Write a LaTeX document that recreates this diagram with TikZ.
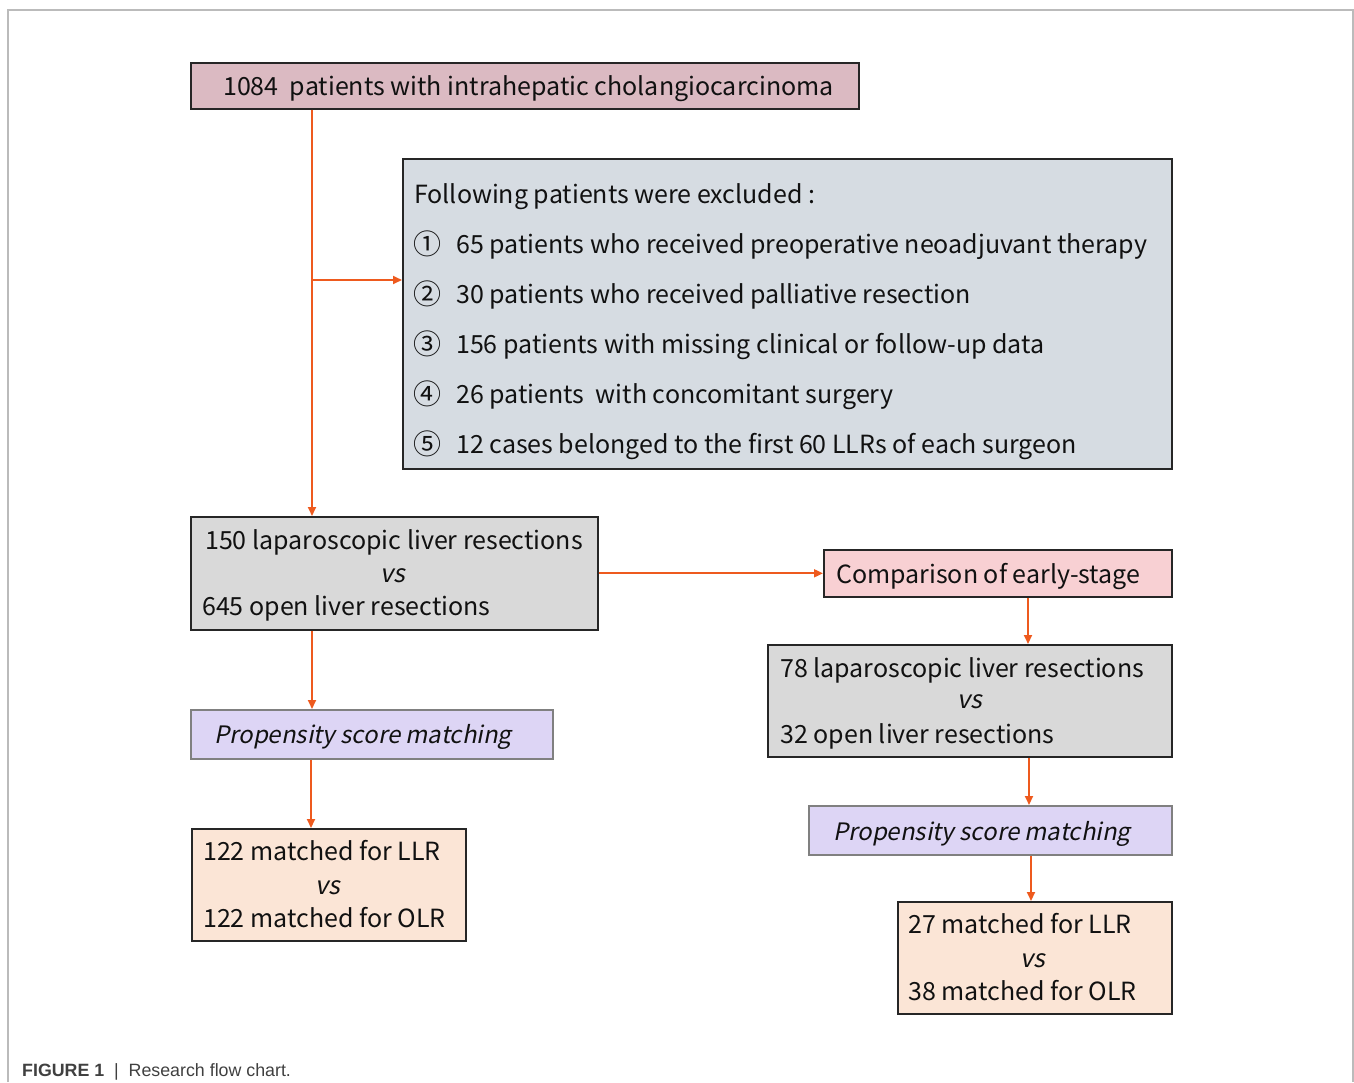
\documentclass[tikz,border=0pt]{standalone}
\usepackage{fontspec}
\setmainfont{Noto Sans CJK SC}[ItalicFont=Noto Sans CJK SC, ItalicFeatures={FakeSlant=0.2}]
\newfontfamily\capfont{Liberation Sans}
\usetikzlibrary{arrows.meta}
\definecolor{arrowc}{HTML}{EE5A1E}
\definecolor{topfill}{HTML}{DBBAC2}
\definecolor{exfill}{HTML}{D6DCE2}
\definecolor{grayfill}{HTML}{D9D9D9}
\definecolor{cmpfill}{HTML}{F8D0D3}
\definecolor{psmfill}{HTML}{DDD5F5}
\definecolor{matchfill}{HTML}{FBE5D6}
\definecolor{txt}{HTML}{111111}
\definecolor{framec}{HTML}{BBBBBB}
\tikzset{
  box/.style={draw=black!85, line width=1.6pt, inner sep=0pt, anchor=north west},
  psmbox/.style={draw=black!50, line width=1.5pt, inner sep=0pt, anchor=north west, fill=psmfill},
  txtl/.style={anchor=base west, inner sep=0pt, text=txt, font=\fontsize{25}{30}\selectfont},
  txtc/.style={anchor=base, inner sep=0pt, text=txt, font=\fontsize{25}{30}\selectfont},
  psmtxt/.style={anchor=base west, inner sep=0pt, text=txt, font=\fontsize{24}{30}\selectfont\itshape},
  circ/.style={anchor=base west, inner sep=0pt, text=txt, font=\fontsize{28}{30}\selectfont},
  arr/.style={draw=arrowc, line width=1.8pt, -{Triangle[length=9pt,width=8pt]}}
}
\begin{document}
\begin{tikzpicture}[x=1pt,y=-1pt]
\useasboundingbox (0,0) rectangle (1354,1082);
% frame
\draw[framec, line width=1.2pt] (8,1082) -- (8,10) -- (1353,10) -- (1353,1082);

% boxes
\node[box, fill=topfill, minimum width=668pt, minimum height=46pt] (top) at (190,62) {};
\node[box, fill=exfill, minimum width=769pt, minimum height=310pt] (ex) at (402,158) {};
\node[box, fill=grayfill, minimum width=407pt, minimum height=113pt] (b150) at (190,516) {};
\node[box, fill=cmpfill, minimum width=348pt, minimum height=47pt] (cmp) at (823,549) {};
\node[box, fill=grayfill, minimum width=404pt, minimum height=112pt] (b78) at (767,644) {};
\node[psmbox, minimum width=362pt, minimum height=49pt] (psmL) at (190,709) {};
\node[psmbox, minimum width=363pt, minimum height=49pt] (psmR) at (808,805) {};
\node[box, fill=matchfill, minimum width=274pt, minimum height=112pt] (m122) at (191,828) {};
\node[box, fill=matchfill, minimum width=274pt, minimum height=112pt] (m27) at (897,901) {};

% texts
\node[txtl] (t0) at (223,95) {1084\ \ patients with intrahepatic cholangiocarcinoma};
\node[txtl] (e0) at (414,203) {Following patients were excluded :};
\node[circ] (c1) at (413,254) {①};
\node[txtl] (e1) at (456,253) {65 patients who received preoperative neoadjuvant therapy};
\node[circ] (c2) at (413,304) {②};
\node[txtl] (e2) at (456,303) {30 patients who received palliative resection};
\node[circ] (c3) at (413,354) {③};
\node[txtl] (e3) at (456,353) {156 patients with missing clinical or follow-up data};
\node[circ] (c4) at (413,404) {④};
\node[txtl] (e4) at (456,403) {26 patients\ \ with concomitant surgery};
\node[circ] (c5) at (413,454) {⑤};
\node[txtl] (e5) at (456,453) {12 cases belonged to the first 60 LLRs of each surgeon};

\node[txtl] (a1) at (205,549) {150 laparoscopic liver resections};
\node[txtc] (a2) at (393,582) {\itshape vs};
\node[txtl] (a3) at (202,615) {645 open liver resections};

\node[psmtxt] (p1) at (214,743) {Propensity score matching};

\node[txtl] (m1) at (203,860) {122 matched for LLR};
\node[txtc] (m2) at (328,894) {\itshape vs};
\node[txtl] (m3) at (203,927) {122 matched for OLR};

\node[txtl] (k1) at (836,583) {Comparison of early-stage};

\node[txtl] (r1) at (780,677) {78 laparoscopic liver resections};
\node[txtc] (r2) at (970,708) {\itshape vs};
\node[txtl] (r3) at (780,743) {32 open liver resections};

\node[psmtxt] (p2) at (833,840) {Propensity score matching};

\node[txtl] (s1) at (908,933) {27 matched for LLR};
\node[txtc] (s2) at (1033,967) {\itshape vs};
\node[txtl] (s3) at (908,1000) {38 matched for OLR};

% caption
\node[anchor=base west, inner sep=0pt, text=black!75, font=\capfont\fontsize{17.8}{20}\selectfont] (cap) at (22,1076)
  {\textbf{FIGURE 1}\ \ |\ \ Research flow chart.};

% connectors
\coordinate (br) at ([xshift=122pt,yshift=-122pt]top.south west |- ex.north west);
\draw[arr] ([xshift=122pt]top.south west) -- ([xshift=122pt]b150.north west);
\draw[arr] (br) -- ([yshift=-122pt]ex.north west);
\draw[arr] (b150.east) -- (cmp.west |- b150.east);
\draw[arr] ([xshift=122pt]b150.south west) -- ([xshift=122pt]psmL.north west);
\draw[arr] ([xshift=121pt]psmL.south west) -- ([xshift=120pt]m122.north west);
\draw[arr] ([xshift=205pt]cmp.south west) -- ([xshift=205pt]cmp.south west |- b78.north);
\draw[arr] ([xshift=262pt]b78.south west) -- ([xshift=262pt]b78.south west |- psmR.north);
\draw[arr] ([xshift=223pt]psmR.south west) -- ([xshift=223pt]psmR.south west |- m27.north);
\end{tikzpicture}
\end{document}
